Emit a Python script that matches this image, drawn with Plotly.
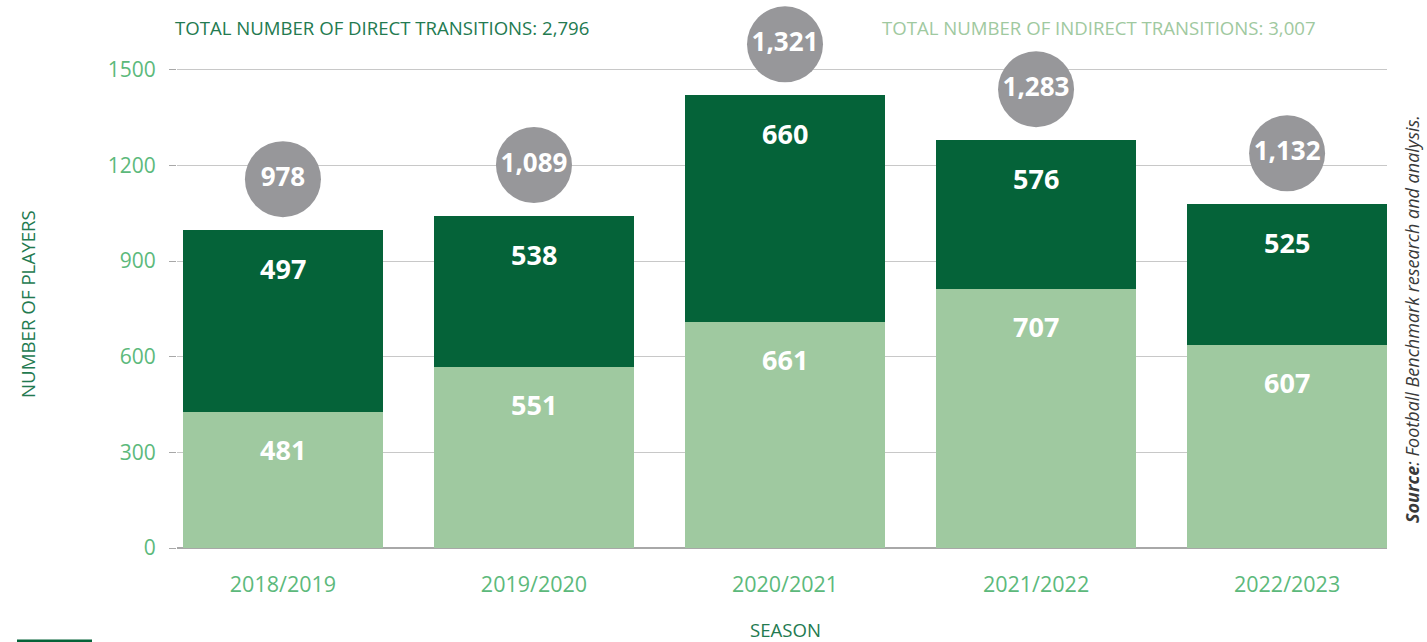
import plotly.graph_objects as go

# ---- data ----
seasons = ["2018/2019", "2019/2020", "2020/2021", "2021/2022", "2022/2023"]
# printed labels
indirect_labels = [481, 551, 661, 707, 607]
direct_labels = [497, 538, 660, 576, 525]
total_labels = [978, 1089, 1321, 1283, 1132]
# bar heights as drawn in the picture
indirect_heights = [426, 567, 708, 812, 636]
direct_heights = [571, 474, 712, 467, 442]
y_ticks = [0, 300, 600, 900, 1200, 1500]
total_direct = 2796
total_indirect = 3007

DARK = "#056339"
LIGHT = "#9fc9a0"
GREY = "#97979a"
TICK = "#5cb97b"
TITLE = "#237a50"
FONT = "Open Sans"

W, H = 1427, 642
L, R, T, B = 177, 40, 40, 82
pw = W - L - R
ph = H - T - B

def px_x(p):
    return (p - L) / pw

def px_y(p):
    return (H - B - p) / ph

fig = go.Figure()
fig.add_trace(go.Bar(x=seasons, y=indirect_heights, marker_color=LIGHT,
                     marker_line_width=0, hoverinfo="skip", name="Indirect"))
fig.add_trace(go.Bar(x=seasons, y=direct_heights, marker_color=DARK,
                     marker_line_width=0, hoverinfo="skip", name="Direct"))

tops = [a + b for a, b in zip(indirect_heights, direct_heights)]
bubble_y = [t + 160 for t in tops]
fig.add_trace(go.Scatter(
    x=seasons, y=bubble_y, mode="markers+text",
    marker=dict(size=76, color=GREY, line=dict(width=0)),
    text=[f"{v:,}" for v in total_labels], textposition="middle center",
    textfont=dict(family=FONT, size=26, color="white", weight="bold"),
    cliponaxis=False, hoverinfo="skip", showlegend=False))

annotations = []
for s, h, lab in zip(seasons, indirect_heights, indirect_labels):
    annotations.append(dict(x=s, y=h, xref="x", yref="y", yshift=-37,
                            text=f"<b>{lab}</b>", showarrow=False,
                            font=dict(family=FONT, size=27, color="white")))
for s, t, lab in zip(seasons, tops, direct_labels):
    annotations.append(dict(x=s, y=t, xref="x", yref="y", yshift=-38,
                            text=f"<b>{lab}</b>", showarrow=False,
                            font=dict(family=FONT, size=27, color="white")))

annotations.append(dict(x=px_x(173), y=px_y(27), xref="paper", yref="paper",
                        xanchor="left", yanchor="middle", showarrow=False,
                        text=f"TOTAL NUMBER OF DIRECT TRANSITIONS: {total_direct:,}",
                        font=dict(family=FONT, size=18.6, color=TITLE)))
annotations.append(dict(x=px_x(880), y=px_y(27), xref="paper", yref="paper",
                        xanchor="left", yanchor="middle", showarrow=False,
                        text=f"TOTAL NUMBER OF INDIRECT TRANSITIONS: {total_indirect:,}",
                        font=dict(family=FONT, size=18.6, color=LIGHT)))
annotations.append(dict(x=px_x(1412), y=px_y(319), xref="paper", yref="paper",
                        xanchor="center", yanchor="middle", showarrow=False,
                        textangle=-90,
                        text="<b><i>Source</i></b><i>: Football Benchmark research and analysis.</i>",
                        font=dict(family=FONT, size=18, color="#3a3a3a")))
annotations.append(dict(x=px_x(27), y=px_y(304), xref="paper", yref="paper",
                        xanchor="center", yanchor="middle", showarrow=False,
                        textangle=-90, text="NUMBER OF PLAYERS",
                        font=dict(family=FONT, size=18.7, color=TITLE)))
annotations.append(dict(x=px_x(785), y=px_y(629), xref="paper", yref="paper",
                        xanchor="center", yanchor="middle", showarrow=False,
                        text="SEASON",
                        font=dict(family=FONT, size=18.6, color=TITLE)))

# y scale: 0 at pixel 548, 1500 at pixel 69.8
upp = 1500 / (548 - 69.8)
y_lo = -((H - B) - 548) * upp
y_hi = (548 - T) * upp

fig.update_layout(
    width=W, height=H,
    margin=dict(l=L, r=R, t=T, b=B, autoexpand=False),
    barmode="stack", bargap=0.203,
    plot_bgcolor="white", paper_bgcolor="white",
    showlegend=False,
    font=dict(family=FONT),
    xaxis=dict(range=[-0.422, 4.398], showgrid=False, showline=False,
               ticks="", zeroline=False,
               tickfont=dict(family=FONT, size=21.5, color=TICK),
               ticklabelstandoff=9),
    yaxis=dict(range=[y_lo, y_hi], tickvals=y_ticks,
               showgrid=True, gridcolor="#c8c8c8", gridwidth=1.3,
               zeroline=True, zerolinecolor="#a8a8a8", zerolinewidth=1.5,
               showline=False, ticks="outside", ticklen=7, tickcolor="#a8a8a8",
               tickfont=dict(family=FONT, size=21, color=TICK),
               ticklabelstandoff=9),
    annotations=annotations,
    shapes=[dict(type="line", xref="paper", yref="paper",
                 x0=px_x(17), x1=px_x(92), y0=px_y(641), y1=px_y(641),
                 line=dict(color=DARK, width=3))],
)

fig.write_html("out.html",
               config={"displayModeBar": False},
               post_script="document.body.style.margin='0';document.body.style.overflow='hidden';")
